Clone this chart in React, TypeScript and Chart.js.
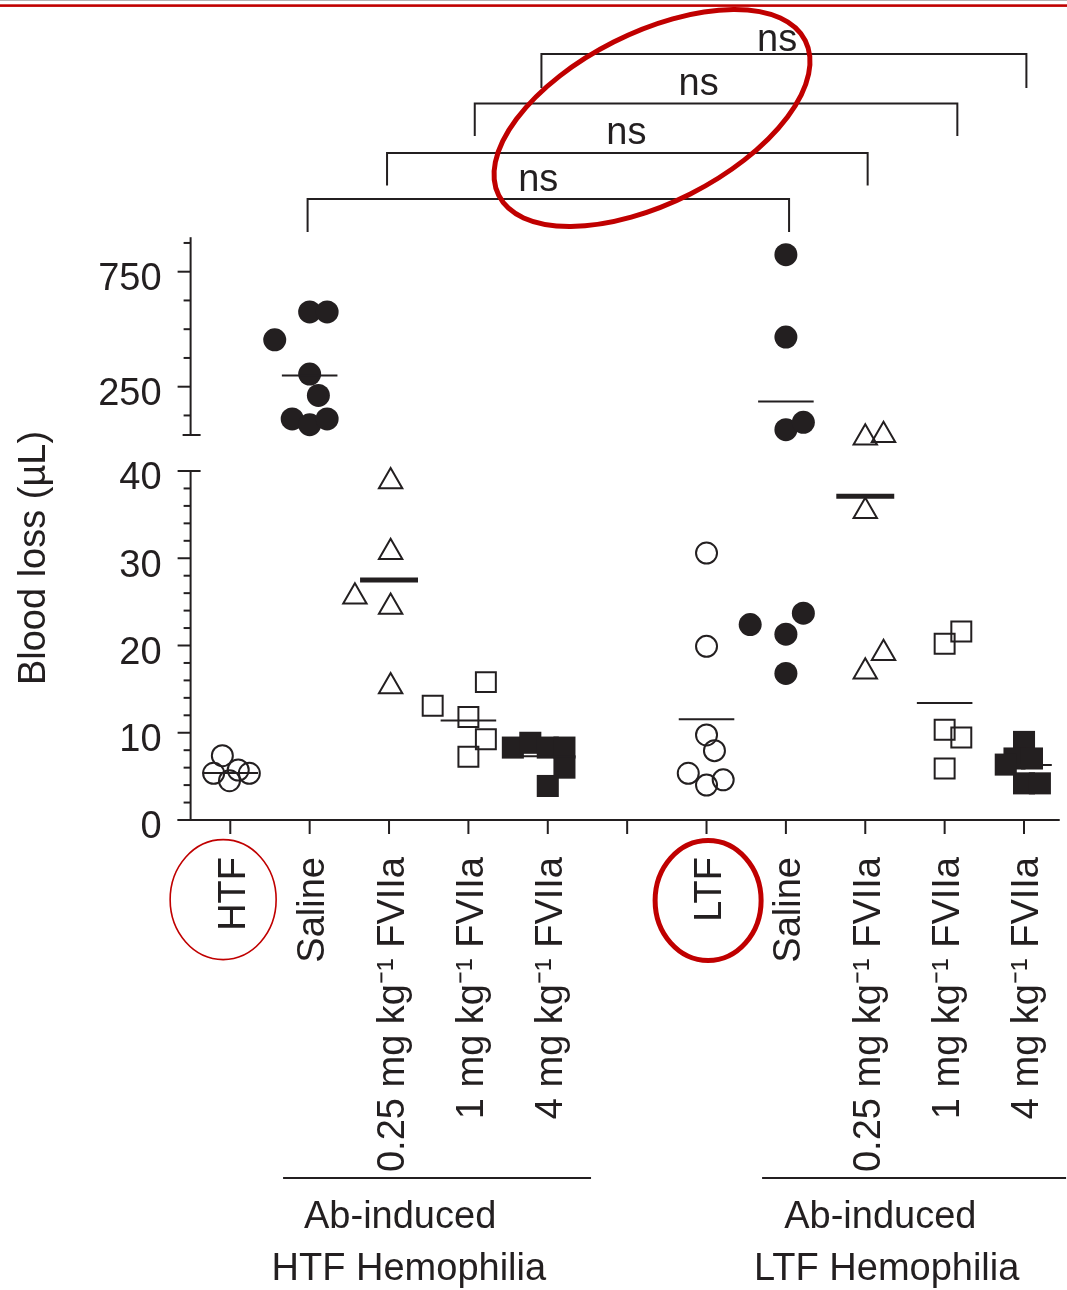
import React, { useEffect, useRef } from 'react';
import { Chart, registerables } from 'chart.js';

Chart.register(...registerables);

// ---------------- data ----------------
const CATEGORY_LABELS = [
  'HTF', 'Saline', '0.25 mg kg⁻¹ FVIIa', '1 mg kg⁻¹ FVIIa', '4 mg kg⁻¹ FVIIa', '',
  'LTF', 'Saline', '0.25 mg kg⁻¹ FVIIa', '1 mg kg⁻¹ FVIIa', '4 mg kg⁻¹ FVIIa',
];
const LOWER_TICKS = [0, 10, 20, 30, 40];
const LOWER_MINOR_TICKS = [2, 4, 6, 8, 12, 14, 16, 18, 22, 24, 26, 28, 32, 34, 36, 38];
const UPPER_TICKS = [250, 750];
const UPPER_MINOR_TICKS = [125, 375, 500, 625, 875];

// HTF group (x = category index + jitter, y = blood loss in µL)
const htfControlJitter = [-0.1, -0.21, -0.01, 0.1, 0.24];
const htfControlLoss = [7.37, 5.35, 4.5, 5.73, 5.35];
const htfSalineJitter = [0, 0.22, -0.44, 0, 0.11, -0.22, 0, 0.22];
const htfSalineLoss = [575, 575, 454, 305, 212, 110, 85, 110];
const htf025Jitter = [0.02, 0.02, -0.43, 0.02, 0.02];
const htf025Loss = [38.8, 30.7, 25.6, 24.4, 15.3];
const htf1Jitter = [0.22, -0.45, 0, 0.22, 0];
const htf1Loss = [15.8, 13.1, 11.8, 9.25, 7.25];
const htf4Jitter = [-0.44, -0.22, 0, 0.21, 0.21, 0];
const htf4Loss = [8.3, 8.85, 8.3, 8.3, 6.0, 3.9];

// LTF group
const ltfControlJitter = [0, 0, 0, 0.1, -0.23, 0, 0.21];
const ltfControlLoss = [30.6, 19.9, 9.75, 7.95, 5.35, 4.0, 4.6];
const ltfSalineHighJitter = [0, 0, 0, 0.22];
const ltfSalineHighLoss = [824, 466, 63, 95];
const ltfSalineLowJitter = [-0.45, 0.22, 0, 0];
const ltfSalineLowLoss = [22.4, 23.7, 21.3, 16.8];
const ltf025Jitter = [0, 0.23, 0, 0.23, 0];
const ltf025Loss = [43.8, 44.1, 35.4, 19.1, 17.0];
const ltf1Jitter = [0, 0.21, 0, 0.21, 0];
const ltf1Loss = [20.2, 21.6, 10.35, 9.45, 5.9];
const ltf4Jitter = [0, -0.12, 0.1, -0.23, 0, 0.2];
const ltf4Loss = [8.95, 7.05, 7.05, 6.35, 4.2, 4.2];

// group means (null = spacer)
const GROUP_MEANS: (number | null)[] = [5.4, 299, 27.5, 11.4, 7.3, null, 11.55, 186, 37.1, 13.4, 6.3];
const UPPER_MEAN_GROUPS = [1, 7];
const THICK_MEAN_GROUPS = [2, 8];

const SIGNIFICANCE = ['ns', 'ns', 'ns', 'ns'];

// ---------------- styling / layout ----------------
const INK = '#231f20';
const RED = '#c00000';
const FONT = '"Liberation Sans", Arial, Helvetica, sans-serif';
const FS = 38;
const W = 1067;
const H = 1290;
const AXIS_X = 190.6;
const PLOT_TOP = 237.2;
const PLOT_BOTTOM = 820;
const LOWER_WEIGHT = 385;
const UPPER_WEIGHT = 197.8;

// brackets: from/to/text in category units, level/drop in pixels
const BRACKETS = [
  { from: 3.92, to: 10.03, level: 54, drop: 88, text: 6.89, base: 51 },
  { from: 3.08, to: 9.16, level: 103.5, drop: 136, text: 5.9, base: 95 },
  { from: 1.975, to: 8.03, level: 153, drop: 185.5, text: 4.99, base: 144 },
  { from: 0.974, to: 7.04, level: 199, drop: 232, text: 3.88, base: 191 },
];

type Shape = 'circle' | 'triangle' | 'rect';

function pointSet(center: number, jitter: number[], values: number[], shape: Shape, filled: boolean, axis: string) {
  const radius = shape === 'circle' ? (filled ? 11.5 : 10.5) : shape === 'triangle' ? 13.5 : filled ? 15.6 : 14.1;
  return {
    type: 'scatter' as const,
    data: values.map((v, i) => ({ x: center + jitter[i], y: v })),
    yAxisID: axis,
    pointStyle: shape,
    pointRadius: radius,
    pointHoverRadius: radius,
    pointBackgroundColor: filled ? INK : 'rgba(0,0,0,0)',
    pointBorderColor: INK,
    pointBorderWidth: filled ? 0 : 2,
    showLine: false,
    clip: false,
    order: 1,
  };
}

function meanSets() {
  const out: any[] = [];
  GROUP_MEANS.forEach((m, i) => {
    if (m === null) return;
    const thick = THICK_MEAN_GROUPS.includes(i);
    const half = thick ? 0.365 : 0.35;
    out.push({
      type: 'line' as const,
      data: [{ x: i - half, y: m }, { x: i + half, y: m }],
      yAxisID: UPPER_MEAN_GROUPS.includes(i) ? 'y2' : 'y',
      borderColor: INK,
      borderWidth: thick ? 5 : 2,
      pointRadius: 0,
      fill: false,
      clip: false,
      order: 0,
    });
  });
  return out;
}

const brokenAxesPlugin = {
  id: 'brokenAxes',
  beforeDatasetsDraw(chart: any) {
    const { ctx } = chart;
    const xs = chart.scales.x;
    const lo = chart.scales.y;
    const up = chart.scales.y2;
    const ax = chart.chartArea.left;
    ctx.save();
    ctx.strokeStyle = INK;
    ctx.lineWidth = 2;
    const seg = (x1: number, y1: number, x2: number, y2: number) => {
      ctx.beginPath();
      ctx.moveTo(x1, y1);
      ctx.lineTo(x2, y2);
      ctx.stroke();
    };
    // lower y axis
    const y0 = lo.getPixelForValue(0);
    const y40 = lo.getPixelForValue(40);
    seg(ax, y0 + 1, ax, y40 - 1);
    LOWER_TICKS.forEach((v) => {
      const p = lo.getPixelForValue(v);
      seg(ax - 13, p, v === 40 ? ax + 10 : ax, p);
    });
    LOWER_MINOR_TICKS.forEach((v) => {
      const p = lo.getPixelForValue(v);
      seg(ax - 7, p, ax, p);
    });
    // upper y axis
    const u40 = up.getPixelForValue(40);
    const uTop = up.getPixelForValue(900);
    seg(ax, u40 + 1, ax, uTop);
    seg(ax - 8, u40, ax + 10, u40);
    UPPER_TICKS.forEach((v) => {
      const p = up.getPixelForValue(v);
      seg(ax - 13, p, ax, p);
    });
    UPPER_MINOR_TICKS.forEach((v) => {
      const p = up.getPixelForValue(v);
      seg(ax - 7, p, ax, p);
    });
    // x axis
    const xEnd = xs.getPixelForValue(10.45);
    seg(ax - 13, y0, xEnd, y0);
    CATEGORY_LABELS.forEach((_, i) => {
      const p = xs.getPixelForValue(i);
      seg(p, y0, p, y0 + 14);
    });
    ctx.restore();
  },
};

const annotationPlugin = {
  id: 'annotations',
  afterDraw(chart: any) {
    const { ctx } = chart;
    const xs = chart.scales.x;
    ctx.save();
    // page rules
    ctx.fillStyle = '#b5b5b5';
    ctx.fillRect(0, 0, W, 1);
    ctx.fillStyle = RED;
    ctx.fillRect(0, 4.3, W, 2.6);

    // brackets
    ctx.strokeStyle = INK;
    ctx.fillStyle = INK;
    ctx.lineWidth = 2;
    ctx.font = `${FS}px ${FONT}`;
    ctx.textAlign = 'center';
    ctx.textBaseline = 'alphabetic';
    BRACKETS.forEach((b, k) => {
      const x1 = xs.getPixelForValue(b.from);
      const x2 = xs.getPixelForValue(b.to);
      ctx.beginPath();
      ctx.moveTo(x1, b.drop);
      ctx.lineTo(x1, b.level);
      ctx.lineTo(x2, b.level);
      ctx.lineTo(x2, b.drop);
      ctx.stroke();
      ctx.fillText(SIGNIFICANCE[k], xs.getPixelForValue(b.text), b.base);
    });

    // y title
    ctx.save();
    ctx.translate(44.5, 558);
    ctx.rotate(-Math.PI / 2);
    ctx.textAlign = 'center';
    ctx.textBaseline = 'alphabetic';
    ctx.fillText('Blood loss (µL)', 0, 0);
    ctx.restore();

    // group captions
    const groups = [
      { from: 0.665, to: 4.545, c1: 2.14, c2: 2.25, name: 'HTF Hemophilia' },
      { from: 6.7, to: 10.53, c1: 8.19, c2: 8.27, name: 'LTF Hemophilia' },
    ];
    groups.forEach((g) => {
      ctx.beginPath();
      ctx.moveTo(xs.getPixelForValue(g.from), 1178);
      ctx.lineTo(xs.getPixelForValue(g.to), 1178);
      ctx.stroke();
      ctx.fillText('Ab-induced', xs.getPixelForValue(g.c1), 1228);
      ctx.fillText(g.name, xs.getPixelForValue(g.c2), 1280);
    });

    // red highlight ellipses
    ctx.strokeStyle = RED;
    ctx.lineWidth = 5;
    ctx.beginPath();
    ctx.ellipse(652, 118, 171.7, 85.1, (-26.8 * Math.PI) / 180, 0, Math.PI * 2);
    ctx.stroke();
    ctx.lineWidth = 1.6;
    ctx.beginPath();
    ctx.ellipse(xs.getPixelForValue(-0.09), 899.6, 53, 60, 0, 0, Math.PI * 2);
    ctx.stroke();
    ctx.lineWidth = 5;
    ctx.beginPath();
    ctx.ellipse(xs.getPixelForValue(6.02), 900.5, 53, 60, 0, 0, Math.PI * 2);
    ctx.stroke();
    ctx.restore();
  },
};

export default function App() {
  const ref = useRef<HTMLCanvasElement>(null);
  useEffect(() => {
    const datasets: any[] = [
      ...meanSets(),
      pointSet(0, htfControlJitter, htfControlLoss, 'circle', false, 'y'),
      pointSet(1, htfSalineJitter, htfSalineLoss, 'circle', true, 'y2'),
      pointSet(2, htf025Jitter, htf025Loss, 'triangle', false, 'y'),
      pointSet(3, htf1Jitter, htf1Loss, 'rect', false, 'y'),
      pointSet(4, htf4Jitter, htf4Loss, 'rect', true, 'y'),
      pointSet(6, ltfControlJitter, ltfControlLoss, 'circle', false, 'y'),
      pointSet(7, ltfSalineHighJitter, ltfSalineHighLoss, 'circle', true, 'y2'),
      pointSet(7, ltfSalineLowJitter, ltfSalineLowLoss, 'circle', true, 'y'),
      pointSet(8, ltf025Jitter, ltf025Loss, 'triangle', false, 'y'),
      pointSet(9, ltf1Jitter, ltf1Loss, 'rect', false, 'y'),
      pointSet(10, ltf4Jitter, ltf4Loss, 'rect', true, 'y'),
    ];
    // lower segment spans from 0 up to the bottom of the upper segment (includes the break gap)
    const lowerMax = (40 * (PLOT_BOTTOM - 435)) / (PLOT_BOTTOM - 471);
    const chart = new Chart(ref.current as HTMLCanvasElement, {
      type: 'scatter',
      data: { datasets },
      options: {
        animation: false,
        responsive: false,
        devicePixelRatio: 1,
        events: [],
        layout: { autoPadding: false, padding: { top: PLOT_TOP, right: 3.3, left: 0, bottom: 0 } },
        plugins: { legend: { display: false }, tooltip: { enabled: false } },
        scales: {
          x: {
            type: 'linear',
            position: 'bottom',
            min: -0.5,
            max: 10.5,
            grid: { display: false, drawTicks: false },
            border: { display: false },
            afterBuildTicks: (s: any) => {
              s.ticks = CATEGORY_LABELS.map((_, i) => ({ value: i }));
            },
            afterFit: (s: any) => {
              s.height = H - PLOT_BOTTOM;
              s.paddingLeft = 0;
              s.paddingRight = 0;
            },
            ticks: {
              autoSkip: false,
              minRotation: 90,
              maxRotation: 90,
              padding: 37,
              labelOffset: 4,
              color: INK,
              font: { family: FONT, size: FS },
              callback: (v: any) => CATEGORY_LABELS[v] ?? '',
            },
          },
          y: {
            type: 'linear',
            position: 'left',
            stack: 'blood',
            stackWeight: LOWER_WEIGHT,
            min: 0,
            max: lowerMax,
            grid: { display: false, drawTicks: false },
            border: { display: false },
            afterBuildTicks: (s: any) => {
              s.ticks = LOWER_TICKS.map((v) => ({ value: v }));
            },
            afterFit: (s: any) => {
              s.width = AXIS_X;
              s.paddingTop = 0;
              s.paddingBottom = 0;
            },
            ticks: {
              padding: 29,
              labelOffset: 8,
              color: INK,
              font: { family: FONT, size: FS },
              callback: (v: any) => String(v),
            },
          },
          y2: {
            type: 'linear',
            position: 'left',
            stack: 'blood',
            stackWeight: UPPER_WEIGHT,
            min: 40,
            max: 900,
            grid: { display: false, drawTicks: false },
            border: { display: false },
            afterBuildTicks: (s: any) => {
              s.ticks = UPPER_TICKS.map((v) => ({ value: v }));
            },
            afterFit: (s: any) => {
              s.width = AXIS_X;
              s.paddingTop = 0;
              s.paddingBottom = 0;
            },
            ticks: {
              padding: 29,
              labelOffset: 8,
              color: INK,
              font: { family: FONT, size: FS },
              callback: (v: any) => String(v),
            },
          },
        },
      } as any,
      plugins: [brokenAxesPlugin, annotationPlugin],
    });
    return () => chart.destroy();
  }, []);
  return (
    <div style={{ position: 'absolute', left: 0, top: 0, width: W, height: H, background: '#ffffff' }}>
      <canvas ref={ref} width={W} height={H} style={{ display: 'block', width: W, height: H }} />
    </div>
  );
}
